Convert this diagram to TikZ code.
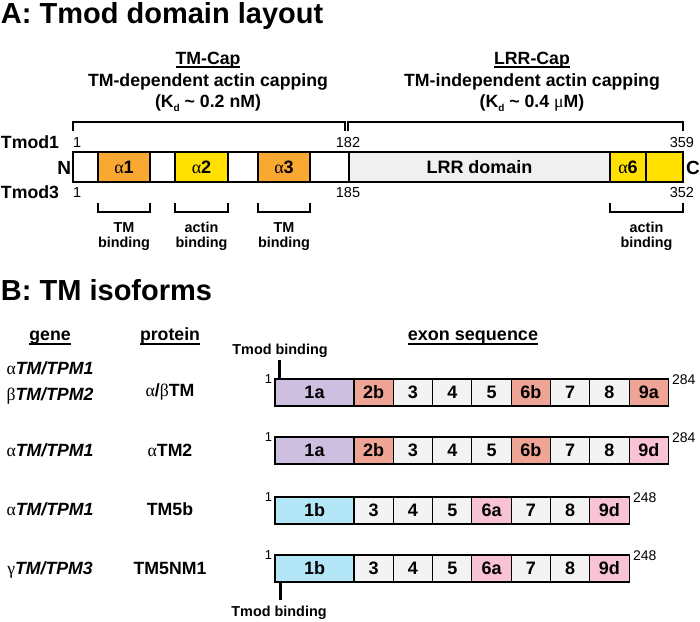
\documentclass[tikz,border=0pt]{standalone}
\usepackage{fontspec}
\setmainfont{Liberation Sans}
\newfontfamily\grk{Liberation Serif}
\definecolor{orng}{HTML}{F9A832}
\definecolor{yel}{HTML}{FFE000}
\definecolor{lgray}{HTML}{F3F3F3}
\definecolor{lrr}{HTML}{F0F0F0}
\definecolor{lav}{HTML}{CDBFE0}
\definecolor{salm}{HTML}{EEA595}
\definecolor{pnk}{HTML}{F9C3D6}
\definecolor{lblue}{HTML}{B3E6F7}
\newcommand\myfs[1]{\fontsize{#1}{#1}\selectfont}
\newcommand\grA{{\grk\mdseries α}}
\newcommand\grB{{\grk\mdseries β}}
\newcommand\grG{{\grk\mdseries γ}}
\begin{document}
\begin{tikzpicture}[x=1pt,y=-1pt,
  txt/.style={inner sep=0pt, outer sep=0pt, anchor=base},
  dom/.style={draw, line width=1.1pt, minimum height=30pt, inner sep=0pt, outer sep=0pt, anchor=north west, font=\bfseries\myfs{18}},
  ex/.style={draw, line width=1.1pt, minimum height=27pt, inner sep=0pt, outer sep=0pt, anchor=north west, font=\bfseries\myfs{18}},
  brk/.style={line width=2.6pt, line join=miter},
  ul/.style={line width=1.3pt},
  num/.style={txt, font=\myfs{14.5}},
  lbl/.style={txt, font=\bfseries\myfs{17.7}},
  sub/.style={txt, font=\bfseries\myfs{14.4}},
  hdr/.style={txt, font=\bfseries\myfs{17.7}},
  ttl/.style={txt, anchor=base west, font=\bfseries\myfs{29}},
  tick/.style={line width=3pt}]
\useasboundingbox (0,0) rectangle (700,621);
\fill[white] (0,0) rectangle (700,621);

% ---------------- A ----------------
\node[ttl] (ta) at (1,23) {A: Tmod domain layout};

\node[hdr] (tmcap) at (208,64) {TM-Cap};
\draw[ul] ([yshift=-3pt]tmcap.base west) -- ([yshift=-3pt]tmcap.base east);
\node[hdr] (tmdep) at (208,86) {TM-dependent actin capping};
\node[hdr] (kd1) at (208,107) {(K\raisebox{-4.5pt}{\myfs{10}d} \textasciitilde{} 0.2 nM)};

\node[hdr] (lrrcap) at (532,64) {LRR-Cap};
\draw[ul] ([yshift=-3pt]lrrcap.base west) -- ([yshift=-3pt]lrrcap.base east);
\node[hdr] (tmind) at (532,86) {TM-independent actin capping};
\node[hdr] (kd2) at (532,107) {(K\raisebox{-4.5pt}{\myfs{10}d} \textasciitilde{} 0.4 {\grk\mdseries μ}M)};

\draw[brk] (73,131) -- (73,122) -- (345,122) -- (345,131);
\draw[brk] (348,131) -- (348,122) -- (683,122) -- (683,131);

\node[lbl, anchor=base west] (tm1) at (1,148) {Tmod1};
\node[lbl, anchor=base west] (tm3) at (1,198) {Tmod3};
\node[num, anchor=base west] (n1a) at (73,147) {1};
\node[num] (n182) at (348,147) {182};
\node[num, anchor=base east] (n359) at (694,147) {359};
\node[num, anchor=base west] (n1b) at (73,197) {1};
\node[num] (n185) at (348,197) {185};
\node[num, anchor=base east] (n352) at (694,197) {352};

\node[dom, fill=white, minimum width=25pt] (d0) at (73,152) {};
\node[dom, fill=orng, minimum width=52pt] (da1) at (98,152) {\grA 1};
\node[dom, fill=white, minimum width=25pt] (d1) at (150,152) {};
\node[dom, fill=yel, minimum width=53pt] (da2) at (175,152) {\grA 2};
\node[dom, fill=white, minimum width=30pt] (d2) at (228,152) {};
\node[dom, fill=orng, minimum width=52pt] (da3) at (258,152) {\grA 3};
\node[dom, fill=white, minimum width=39pt] (d3) at (310,152) {};
\node[dom, fill=lrr, minimum width=261pt] (dlrr) at (349,152) {LRR domain};
\node[dom, fill=yel, minimum width=36pt] (da6) at (610,152) {\grA 6};
\node[dom, fill=yel, minimum width=37pt] (dend) at (646,152) {};

\node[lbl, font=\bfseries\myfs{19}, anchor=base east] (nN) at (71,174) {N};
\node[lbl, font=\bfseries\myfs{19}, anchor=base west] (nC) at (686,174) {C};

\draw[brk] (98,203) -- (98,212) -- (150,212) -- (150,203);
\draw[brk] (175,203) -- (175,212) -- (228,212) -- (228,203);
\draw[brk] (258,203) -- (258,212) -- (310,212) -- (310,203);
\draw[brk] (610,203) -- (610,212) -- (683,212) -- (683,203);

\node[sub] (s1a) at (124,232) {TM};
\node[sub] (s1b) at (124,247) {binding};
\node[sub] (s2a) at (201.5,232) {actin};
\node[sub] (s2b) at (201.5,247) {binding};
\node[sub] (s3a) at (284,232) {TM};
\node[sub] (s3b) at (284,247) {binding};
\node[sub] (s4a) at (646.5,232) {actin};
\node[sub] (s4b) at (646.5,247) {binding};

% ---------------- B ----------------
\node[ttl] (tb) at (1,300) {B: TM isoforms};

\node[lbl] (hgene) at (50,340) {gene};
\draw[ul] ([yshift=-4pt]hgene.base west) -- ([yshift=-4pt]hgene.base east);
\node[lbl] (hprot) at (170,340) {protein};
\draw[ul] ([yshift=-4pt]hprot.base west) -- ([yshift=-4pt]hprot.base east);
\node[lbl, font=\bfseries\myfs{18}] (hexon) at (473,340) {exon sequence};
\draw[ul] ([yshift=-4pt]hexon.base west) -- ([yshift=-4pt]hexon.base east);

% gene / protein labels
\node[lbl] (g1a) at (50,374) {\grA\textit{TM/TPM1}};
\node[lbl] (g1b) at (50,400) {\grB\textit{TM/TPM2}};
\node[lbl] (p1) at (170,396) {\grA/\grB TM};
\node[lbl] (g2) at (50,456) {\grA\textit{TM/TPM1}};
\node[lbl] (p2) at (170,456) {\grA TM2};
\node[lbl] (g3) at (50,515) {\grA\textit{TM/TPM1}};
\node[lbl] (p3) at (170,515) {TM5b};
\node[lbl] (g4) at (50,574) {\grG\textit{TM/TPM3}};
\node[lbl] (p4) at (170,574) {TM5NM1};

% row 1
\node[ex, fill=lav, minimum width=79pt] (r1a) at (275,379) {1a};
\foreach \lab/\col [count=\k] in {2b/salm,3/lgray,4/lgray,5/lgray,6b/salm,7/lgray,8/lgray,9a/salm}
  \node[ex, fill=\col, minimum width=39.3pt] (r1e\k) at ({354+(\k-1)*39.3},379) {\lab};
% row 2
\node[ex, fill=lav, minimum width=79pt] (r2a) at (275,437) {1a};
\foreach \lab/\col [count=\k] in {2b/salm,3/lgray,4/lgray,5/lgray,6b/salm,7/lgray,8/lgray,9d/pnk}
  \node[ex, fill=\col, minimum width=39.3pt] (r2e\k) at ({354+(\k-1)*39.3},437) {\lab};
% row 3
\node[ex, fill=lblue, minimum width=79pt] (r3a) at (275,497) {1b};
\foreach \lab/\col [count=\k] in {3/lgray,4/lgray,5/lgray,6a/pnk,7/lgray,8/lgray,9d/pnk}
  \node[ex, fill=\col, minimum width=39.3pt] (r3e\k) at ({354+(\k-1)*39.3},497) {\lab};
% row 4
\node[ex, fill=lblue, minimum width=79pt] (r4a) at (275,555) {1b};
\foreach \lab/\col [count=\k] in {3/lgray,4/lgray,5/lgray,6a/pnk,7/lgray,8/lgray,9d/pnk}
  \node[ex, fill=\col, minimum width=39.3pt] (r4e\k) at ({354+(\k-1)*39.3},555) {\lab};

% numbers
\node[num, font=\myfs{13}, anchor=base east] (r1s) at (272,383) {1};
\node[num, font=\myfs{14}, anchor=base west] (r1n) at (672,384) {284};
\node[num, font=\myfs{13}, anchor=base east] (r2s) at (272,441) {1};
\node[num, font=\myfs{14}, anchor=base west] (r2n) at (672,442) {284};
\node[num, font=\myfs{13}, anchor=base east] (r3s) at (272,501) {1};
\node[num, font=\myfs{14}, anchor=base west] (r3n) at (633,502) {248};
\node[num, font=\myfs{13}, anchor=base east] (r4s) at (272,559) {1};
\node[num, font=\myfs{14}, anchor=base west] (r4n) at (633,560) {248};

% Tmod binding marks
\node[sub] (tb1) at (280,354) {Tmod binding};
\coordinate (k1) at (279,360);
\draw[tick] (k1) -- (k1 |- r1a.north);
\node[sub] (tb2) at (279,616) {Tmod binding};
\coordinate (k2) at (280,600);
\draw[tick] (k2) -- (k2 |- r4a.south);
\end{tikzpicture}
\end{document}
